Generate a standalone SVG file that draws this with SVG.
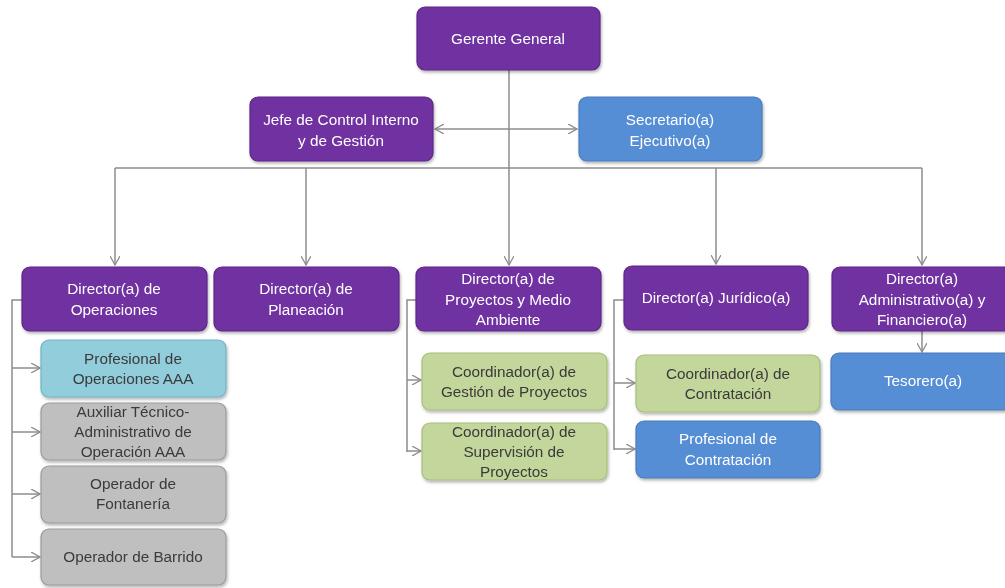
<svg xmlns="http://www.w3.org/2000/svg" width="1005" height="588" viewBox="0 0 1005 588">
<style>
.box{stroke-width:1.2}
.p{fill:#7030A0;stroke:#5E2787}
.b{fill:#558ED5;stroke:#4A7CBB}
.lb{fill:#92CDDC;stroke:#6FB3C6}
.g{fill:#C3D69B;stroke:#A8BE7C}
.gr{fill:#BFBFBF;stroke:#9A9A9A}
text{font-family:"Liberation Sans",Arial,sans-serif;font-size:15.3px;text-anchor:middle}
.w{fill:#FFFFFF}
.d{fill:#3A3A3A}
.c{fill:none;stroke:#8C8C8C;stroke-width:1.5}
</style>
<defs>
<marker id="ah" viewBox="0 0 10 10" refX="9" refY="5" markerWidth="10" markerHeight="10" markerUnits="userSpaceOnUse" orient="auto-start-reverse">
<path d="M0,0 L9,5 L0,10" fill="none" stroke="#8C8C8C" stroke-width="1.3"/>
</marker>
<filter id="sh" x="-10%" y="-10%" width="130%" height="140%">
<feDropShadow dx="1" dy="2" stdDeviation="1.5" flood-color="#000" flood-opacity="0.3"/>
</filter>
</defs>
<rect width="1005" height="588" fill="#FFFFFF"/>
<g id="connectors">
<path class="c" d="M509,70 V168"/>
<path class="c" d="M435,129 H577" marker-start="url(#ah)" marker-end="url(#ah)"/>
<path class="c" d="M115,168 H922"/>
<path class="c" d="M115,168 V265" marker-end="url(#ah)"/>
<path class="c" d="M306,168 V265" marker-end="url(#ah)"/>
<path class="c" d="M509,168 V265" marker-end="url(#ah)"/>
<path class="c" d="M716,168 V264" marker-end="url(#ah)"/>
<path class="c" d="M922,168 V265" marker-end="url(#ah)"/>
<path class="c" d="M22,300 H12 V557"/>
<path class="c" d="M12,368 H40" marker-end="url(#ah)"/>
<path class="c" d="M12,432 H40" marker-end="url(#ah)"/>
<path class="c" d="M12,494 H40" marker-end="url(#ah)"/>
<path class="c" d="M12,557 H40" marker-end="url(#ah)"/>
<path class="c" d="M416,300 H407 V452"/>
<path class="c" d="M407,380 H421" marker-end="url(#ah)"/>
<path class="c" d="M407,451 H421" marker-end="url(#ah)"/>
<path class="c" d="M624,300 H614 V450"/>
<path class="c" d="M614,383 H635" marker-end="url(#ah)"/>
<path class="c" d="M614,449 H635" marker-end="url(#ah)"/>
<path class="c" d="M922,331 V352" marker-end="url(#ah)"/>
</g>
<g id="gerente" filter="url(#sh)"><rect class="box p" x="417" y="7" width="183" height="63" rx="8"/><text class="w" x="508" y="44">Gerente General</text></g>
<g id="jefe" filter="url(#sh)"><rect class="box p" x="250" y="97" width="183" height="64" rx="8"/><text class="w" x="341" y="125">Jefe de Control Interno</text><text class="w" x="341" y="146">y de Gestión</text></g>
<g id="secretario" filter="url(#sh)"><rect class="box b" x="579" y="97" width="183" height="64" rx="8"/><text class="w" x="670" y="125">Secretario(a)</text><text class="w" x="670" y="146">Ejecutivo(a)</text></g>
<g id="dir-operaciones" filter="url(#sh)"><rect class="box p" x="22" y="267" width="185" height="64" rx="8"/><text class="w" x="114" y="294">Director(a)  de</text><text class="w" x="114" y="315">Operaciones</text></g>
<g id="dir-planeacion" filter="url(#sh)"><rect class="box p" x="214" y="267" width="185" height="64" rx="8"/><text class="w" x="306" y="294">Director(a) de</text><text class="w" x="306" y="315">Planeación</text></g>
<g id="dir-proyectos" filter="url(#sh)"><rect class="box p" x="416" y="267" width="185" height="64" rx="8"/><text class="w" x="508" y="284">Director(a) de</text><text class="w" x="508" y="305">Proyectos y Medio</text><text class="w" x="508" y="325">Ambiente</text></g>
<g id="dir-juridico" filter="url(#sh)"><rect class="box p" x="624" y="266" width="184" height="64" rx="8"/><text class="w" x="716" y="303">Director(a) Jurídico(a)</text></g>
<g id="dir-administrativo" filter="url(#sh)"><rect class="box p" x="832" y="267" width="185" height="64" rx="8"/><text class="w" x="922" y="284">Director(a)</text><text class="w" x="922" y="305">Administrativo(a) y</text><text class="w" x="922" y="325">Financiero(a)</text></g>
<g id="prof-operaciones" filter="url(#sh)"><rect class="box lb" x="41" y="340" width="185" height="57" rx="8"/><text class="d" x="133" y="364">Profesional de</text><text class="d" x="133" y="384">Operaciones AAA</text></g>
<g id="auxiliar" filter="url(#sh)"><rect class="box gr" x="41" y="403" width="185" height="57" rx="8"/><text class="d" x="133" y="417">Auxiliar Técnico-</text><text class="d" x="133" y="437">Administrativo de</text><text class="d" x="133" y="457">Operación AAA</text></g>
<g id="fontaneria" filter="url(#sh)"><rect class="box gr" x="41" y="466" width="185" height="57" rx="8"/><text class="d" x="133" y="489">Operador de</text><text class="d" x="133" y="509">Fontanería</text></g>
<g id="barrido" filter="url(#sh)"><rect class="box gr" x="41" y="529" width="185" height="56" rx="8"/><text class="d" x="133" y="562">Operador de Barrido</text></g>
<g id="coord-gestion" filter="url(#sh)"><rect class="box g" x="422" y="353" width="185" height="57" rx="8"/><text class="d" x="514" y="377">Coordinador(a) de</text><text class="d" x="514" y="397">Gestión de Proyectos</text></g>
<g id="coord-supervision" filter="url(#sh)"><rect class="box g" x="422" y="423" width="185" height="57" rx="8"/><text class="d" x="514" y="437">Coordinador(a) de</text><text class="d" x="514" y="457">Supervisión de</text><text class="d" x="514" y="477">Proyectos</text></g>
<g id="coord-contratacion" filter="url(#sh)"><rect class="box g" x="636" y="355" width="184" height="57" rx="8"/><text class="d" x="728" y="379">Coordinador(a) de</text><text class="d" x="728" y="399">Contratación</text></g>
<g id="prof-contratacion" filter="url(#sh)"><rect class="box b" x="636" y="421" width="184" height="57" rx="8"/><text class="w" x="728" y="444">Profesional de</text><text class="w" x="728" y="465">Contratación</text></g>
<g id="tesorero" filter="url(#sh)"><rect class="box b" x="831" y="353" width="185" height="57" rx="8"/><text class="w" x="923" y="386">Tesorero(a)</text></g>
</svg>
